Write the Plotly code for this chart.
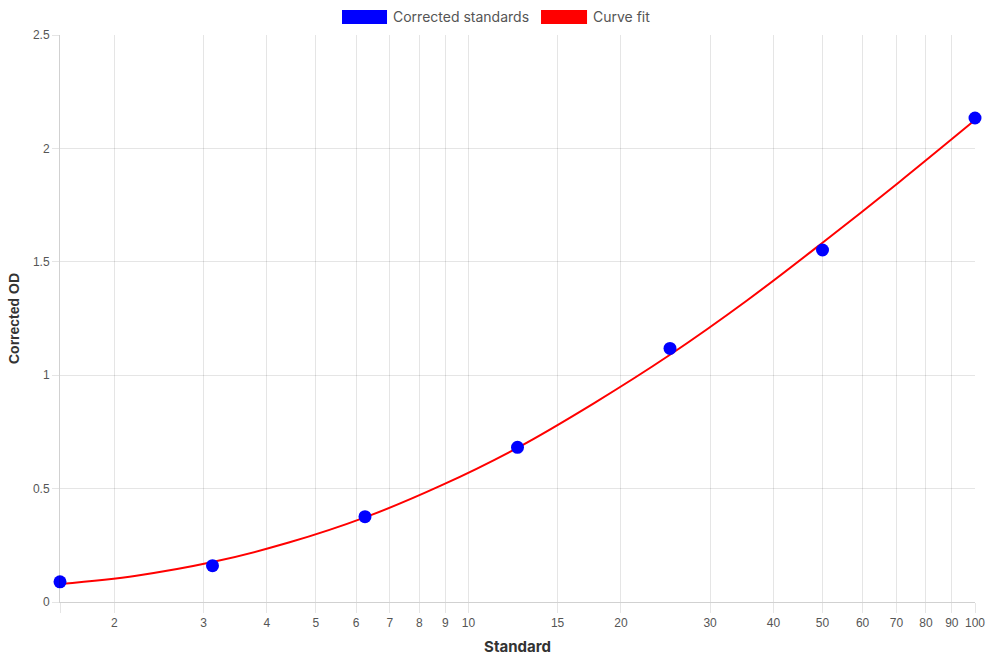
import math
import plotly.graph_objects as go

# Data
std_x = [1.5625, 3.125, 6.25, 12.5, 25, 50, 100]
std_y = [0.089, 0.160, 0.376, 0.682, 1.118, 1.552, 2.134]

fit_x = [1.5625, 2.21, 3.125, 4.42, 6.25, 8.84, 12.5, 17.68, 25, 35.36, 50, 70.71, 100]
fit_y = [0.079, 0.116, 0.176, 0.262, 0.373, 0.514, 0.680, 0.876, 1.090, 1.327,
         1.584, 1.850, 2.125]

x_ticks = [1.5625, 2, 3, 4, 5, 6, 7, 8, 9, 10, 15, 20, 30, 40, 50, 60, 70, 80, 90, 100]
x_tick_text = ["", "2", "3", "4", "5", "6", "7", "8", "9", "10", "15", "20", "30",
               "40", "50", "60", "70", "80", "90", "100"]
y_ticks = [0, 0.5, 1, 1.5, 2, 2.5]
y_tick_text = ["0", "0.5", "1", "1.5", "2", "2.5"]

legend_names = ["Corrected standards", "Curve fit"]
legend_colors = ["#0000ff", "#ff0000"]

GRID = "rgba(0,0,0,0.1)"
TICKFONT = dict(family="Liberation Sans, Arial, sans-serif", size=12, color="#555555")

fig = go.Figure()
fig.add_trace(go.Scatter(x=fit_x, y=fit_y, mode="lines", name=legend_names[1],
                         line=dict(color=legend_colors[1], width=2, shape="spline", smoothing=1.0),
                         showlegend=False, cliponaxis=False))
fig.add_trace(go.Scatter(x=std_x, y=std_y, mode="markers", name=legend_names[0],
                         marker=dict(color=legend_colors[0], size=13, line=dict(width=0)),
                         showlegend=False, cliponaxis=False))

fig.update_xaxes(type="log", range=[math.log10(1.5625) - 1e-6, 2 + 1e-6], tickvals=x_ticks,
                 ticktext=x_tick_text, showgrid=True, gridcolor=GRID, gridwidth=1,
                 ticks="outside", ticklen=10, tickcolor=GRID, tickfont=TICKFONT,
                 showline=True, linecolor="rgba(0,0,0,0.18)", linewidth=1,
                 zeroline=False, automargin=False,
                 title=dict(text="Standard", standoff=12,
                            font=dict(family="Inter, sans-serif", size=15, color="#333333",
                                      weight="bold")))
fig.update_yaxes(range=[0, 2.5], tickvals=y_ticks, ticktext=y_tick_text,
                 showgrid=True, gridcolor=GRID, gridwidth=1,
                 ticks="outside", ticklen=7, tickcolor=GRID, tickfont=TICKFONT,
                 showline=True, linecolor="rgba(0,0,0,0.18)", linewidth=1,
                 zeroline=False, automargin=False,
                 title=dict(text="Corrected OD", standoff=10,
                            font=dict(family="Liberation Sans, Arial, sans-serif", size=14,
                                      color="#333333", weight="bold")))

# custom legend (rectangular swatches)
sw = [(0.3082, 0.3574), (0.5257, 0.5760)]
tx = [0.3639, 0.5825]
shapes = []
annotations = []
for (x0, x1), t, name, col in zip(sw, tx, legend_names, legend_colors):
    shapes.append(dict(type="rect", xref="paper", yref="paper", x0=x0, x1=x1,
                       y0=1.0196, y1=1.0443, fillcolor=col, line=dict(width=0)))
    annotations.append(dict(xref="paper", yref="paper", x=t, y=1.0325, text=name,
                            showarrow=False, xanchor="left", yanchor="middle",
                            xshift=-2,
                            font=dict(family="Inter, sans-serif", size=14, color="#555555")))

fig.update_layout(width=990, height=660, margin=dict(l=60, r=15, t=35, b=58),
                  paper_bgcolor="white", plot_bgcolor="white",
                  shapes=shapes, annotations=annotations, showlegend=False)

fig.write_html("out.html")
